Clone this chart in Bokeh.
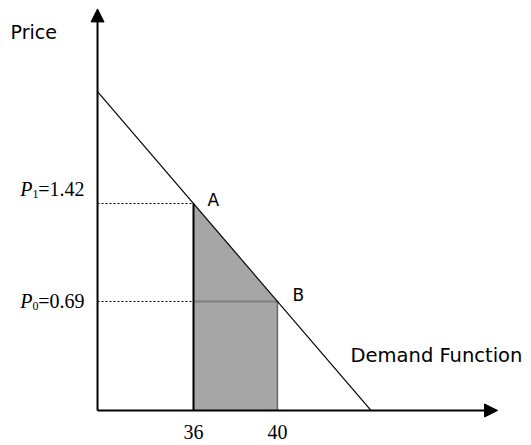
from bokeh.plotting import figure
from bokeh.models import Arrow, NormalHead, Range1d
from bokeh.embed import file_html
from bokeh.resources import INLINE
from bokeh.core.properties import value

# ---- data ----
quantities = [36, 40]          # Q at points A and B
prices = [1.42, 0.69]          # P1 (at A) and P0 (at B)
point_labels = ["A", "B"]
price_subscripts = ["1", "0"]
quantity_labels = ["36", "40"]
x_title = "Demand Function"
y_title = "Price"

# ---- schematic frame (axis origin / extents in data units) ----
q_origin, p_origin = 31.43, -0.122
q_arrow_end, p_arrow_end = 50.48, 2.87

p = figure(width=531, height=445, output_backend="svg", toolbar_location=None,
           x_range=Range1d(26.81, 52.095), y_range=Range1d(-0.383, 2.9327),
           x_axis_location=None, y_axis_location=None, min_border=0,
           outline_line_color=None, background_fill_color=None, border_fill_color=None)
p.grid.visible = False

# demand line through A and B, extended to the axes
slope = (prices[1] - prices[0]) / (quantities[1] - quantities[0])
def demand(q):
    return prices[0] + slope * (q - quantities[0])
q_end = quantities[0] + (p_origin - prices[0]) / slope

# shaded area under the demand curve between Q=36 and Q=40
p.patch([quantities[0], quantities[0], quantities[1], quantities[1]],
        [p_origin, prices[0], prices[1], p_origin],
        fill_color="#a6a6a6", line_color=None)
p.line([quantities[0], quantities[1]], [prices[1], prices[1]], line_color="#7f7f7f", line_width=2)

# demand line
p.line([q_origin, q_end], [demand(q_origin), p_origin], line_color="black", line_width=1.2)

# dashed guides
p.line([q_origin, quantities[0]], [prices[0], prices[0]], line_color="black", line_dash="2 2", line_width=1)
p.line([q_origin, quantities[0]], [prices[1], prices[1]], line_color="black", line_dash="2 2", line_width=1)
p.line([quantities[0], quantities[0]], [p_origin, prices[0]], line_color="black", line_width=2)
p.line([quantities[1], quantities[1]], [p_origin, prices[1]], line_color="black", line_dash="1 1", line_width=1.5)

# axes with arrowheads
p.add_layout(Arrow(end=NormalHead(size=13, fill_color="black", line_color="black"),
                   x_start=q_origin, y_start=p_origin, x_end=q_origin, y_end=p_arrow_end,
                   line_color="black", line_width=2))
p.add_layout(Arrow(end=NormalHead(size=13, fill_color="black", line_color="black"),
                   x_start=q_origin, y_start=p_origin, x_end=q_arrow_end, y_end=p_origin,
                   line_color="black", line_width=2))

serif = value("Liberation Serif")
sans = value("DejaVu Sans")

# quantity tick labels
p.text(x=quantities, y=[p_origin] * 2, text=quantity_labels, text_font=serif,
       text_font_size="20px", text_align="center", text_baseline="top", y_offset=15,
       text_color="black")

# price labels: italic P, subscript, then value
y_offs = [-15, 0]
for pr, sub, yo in zip(prices, price_subscripts, y_offs):
    p.text(x=[q_origin], y=[pr], text=["=" + f"{pr:.2f}"], text_font=serif, text_font_size="20px",
           text_align="right", text_baseline="middle", x_offset=-13, y_offset=yo, text_color="black")
    p.text(x=[q_origin], y=[pr], text=[sub], text_font=serif, text_font_size="12px",
           text_align="right", text_baseline="middle", x_offset=-59, y_offset=yo + 5, text_color="black")
    p.text(x=[q_origin], y=[pr], text=["P"], text_font=serif, text_font_style="italic",
           text_font_size="20px", text_align="right", text_baseline="middle", x_offset=-65,
           y_offset=yo, text_color="black")

# point labels
p.text(x=[quantities[0]], y=[prices[0]], text=[point_labels[0]], text_font=sans, text_font_size="17px",
       text_align="left", text_baseline="middle", x_offset=14, y_offset=-4, text_color="black")
p.text(x=[quantities[1]], y=[prices[1]], text=[point_labels[1]], text_font=sans, text_font_size="17px",
       text_align="left", text_baseline="middle", x_offset=15, y_offset=-6, text_color="black")

# titles
p.text(x=[43.48], y=[0.286], text=[x_title], text_font=sans, text_font_size="19.5px",
       text_align="left", text_baseline="middle", text_color="black")
p.text(x=[27.29], y=[2.70], text=[y_title], text_font=sans, text_font_size="19px",
       text_align="left", text_baseline="middle", text_color="black")

open("out.html", "w").write(file_html(p, INLINE))
